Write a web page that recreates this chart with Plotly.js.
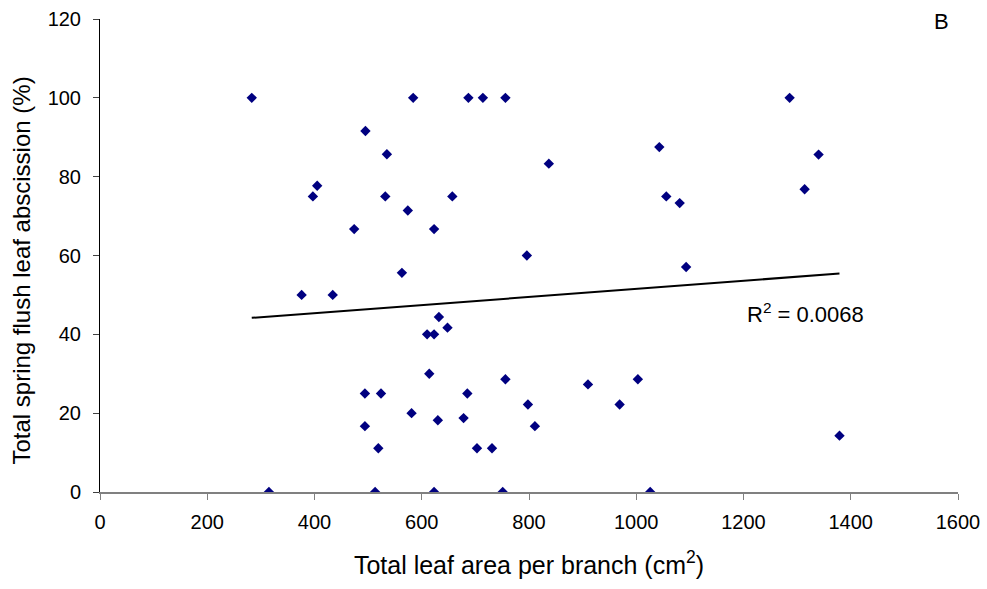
<!DOCTYPE html>
<html>
<head>
<meta charset="utf-8">
<script src="https://cdn.plot.ly/plotly-3.0.1.min.js"></script>
<style>
html,body{margin:0;padding:0;background:#fff;}
#chart{width:987px;height:589px;}
</style>
</head>
<body>
<div id="chart"></div>
<script>
// Total leaf area per branch (cm2)
const leafArea = [283, 584, 687, 714, 756, 1286, 495, 535, 1043, 1340,
  837, 405, 397, 532, 657, 1056, 1081, 1314, 574, 474,
  623, 796, 1093, 563, 376, 434, 632, 648, 610, 623,
  614, 494, 524, 685, 756, 910, 1003, 798, 969, 581,
  678, 630, 494, 811, 519, 703, 731, 1379, 315, 513,
  623, 751, 1026];
// Total spring flush leaf abscission (%)
const abscission = [100, 100, 100, 100, 100, 100, 91.6, 85.7, 87.5, 85.6,
  83.3, 77.7, 75, 75, 75, 75, 73.3, 76.8, 71.4, 66.7,
  66.7, 60, 57.1, 55.6, 50, 50, 44.4, 41.7, 40, 40,
  30, 25, 25, 25, 28.6, 27.3, 28.6, 22.2, 22.2, 20,
  18.75, 18.2, 16.7, 16.7, 11.1, 11.1, 11.1, 14.3, 0, 0,
  0, 0, 0];
const r2Label = "R<sup>2</sup> = 0.0068";
const panelLabel = "B";
const xTitle = "Total leaf area per branch (cm<sup>2</sup>)";
const yTitle = "Total spring flush leaf abscission (%)";

// least-squares linear trendline from the data
const n = leafArea.length;
const mx = leafArea.reduce((a, b) => a + b, 0) / n;
const my = abscission.reduce((a, b) => a + b, 0) / n;
let sxy = 0, sxx = 0;
for (let i = 0; i < n; i++) {
  sxy += (leafArea[i] - mx) * (abscission[i] - my);
  sxx += (leafArea[i] - mx) * (leafArea[i] - mx);
}
const slope = sxy / sxx;
const intercept = my - slope * mx;
const xMin = Math.min(...leafArea), xMax = Math.max(...leafArea);
const trendX = [xMin, xMax];
const trendY = trendX.map(x => intercept + slope * x);

const font = "Liberation Sans, Arial, sans-serif";

const data = [
  {
    x: leafArea, y: abscission, type: "scatter", mode: "markers",
    marker: {symbol: "diamond", size: 8, color: "#000080"},
    hoverinfo: "x+y", showlegend: false
  },
  {
    x: trendX, y: trendY, type: "scatter", mode: "lines",
    line: {color: "#000000", width: 2},
    hoverinfo: "skip", showlegend: false
  }
];

const layout = {
  width: 987, height: 589,
  margin: {l: 100, r: 29, t: 19, b: 97},
  paper_bgcolor: "#ffffff", plot_bgcolor: "#ffffff",
  font: {family: font, color: "#000000", size: 20},
  xaxis: {
    range: [0, 1600], dtick: 200, tick0: 0,
    showgrid: false, zeroline: false,
    showline: true, linecolor: "#808080", linewidth: 2,
    ticks: "outside", ticklen: 6, tickcolor: "#808080", tickwidth: 1,
    ticklabelstandoff: 5,
    tickfont: {family: font, size: 20, color: "#000000"},
    title: {text: xTitle, font: {family: font, size: 25, color: "#000000"}, standoff: 24}
  },
  yaxis: {
    range: [0, 120], dtick: 20, tick0: 0,
    showgrid: false, zeroline: false,
    showline: true, linecolor: "#000000", linewidth: 1,
    ticks: "outside", ticklen: 6, tickcolor: "#404040", tickwidth: 1,
    ticklabelstandoff: 8,
    tickfont: {family: font, size: 20, color: "#000000"}
  },
  annotations: [
    {
      text: yTitle, xref: "paper", yref: "paper",
      x: (22 - 100) / 858, y: (491 - 270) / 472,
      xanchor: "center", yanchor: "middle", textangle: -90, showarrow: false,
      font: {family: font, size: 24, color: "#000000"}
    },
    {
      text: r2Label, xref: "x", yref: "y", x: (745 - 100) / 0.5363, y: 45.3,
      xanchor: "left", yanchor: "middle", showarrow: false,
      font: {family: font, size: 22, color: "#000000"}
    },
    {
      text: panelLabel, xref: "paper", yref: "paper", x: (941 - 100) / 858, y: 1 - (21 - 19) / 473,
      xanchor: "center", yanchor: "middle", showarrow: false,
      font: {family: font, size: 22, color: "#000000"}
    }
  ]
};

Plotly.newPlot("chart", data, layout, {displayModeBar: false, staticPlot: true});
</script>
</body>
</html>
